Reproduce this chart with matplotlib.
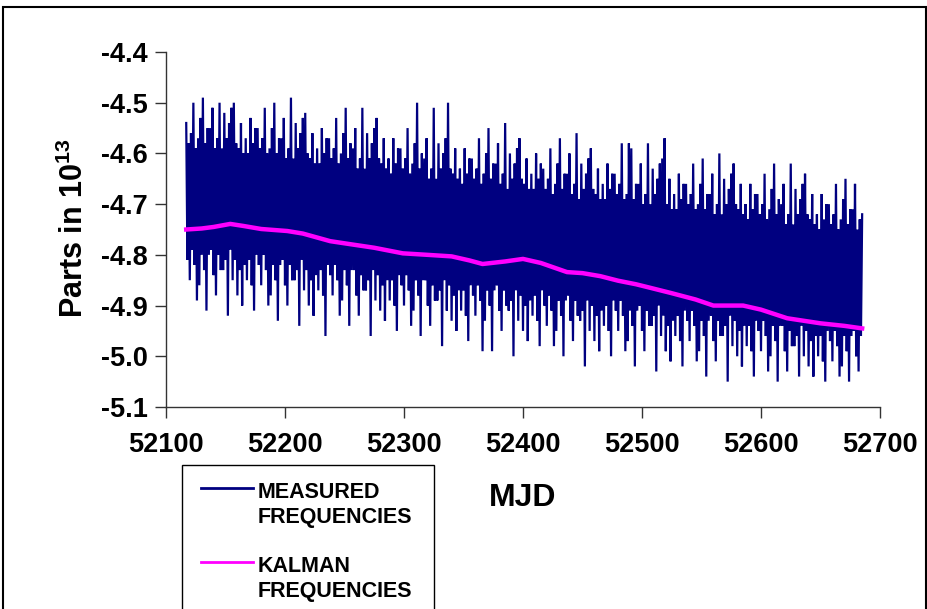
import numpy as np
import matplotlib
matplotlib.use("Agg")
import matplotlib.pyplot as plt
from matplotlib.patches import Rectangle
from matplotlib.lines import Line2D

# ---------------- data ----------------
mjd_start = 52117
mjd_step = 1
measured = [
    -4.54, -4.81, -4.58, -4.85, -4.56, -4.79, -4.50, -4.82, -4.59, -4.89,
    -4.57, -4.86, -4.53, -4.80, -4.49, -4.83, -4.58, -4.91, -4.55, -4.80,
    -4.55, -4.79, -4.51, -4.84, -4.59, -4.88, -4.57, -4.80, -4.50, -4.83,
    -4.59, -4.83, -4.52, -4.81, -4.57, -4.92, -4.54, -4.79, -4.51, -4.85,
    -4.50, -4.81, -4.58, -4.88, -4.59, -4.83, -4.54, -4.90, -4.60, -4.82,
    -4.57, -4.85, -4.60, -4.81, -4.53, -4.86, -4.58, -4.91, -4.55, -4.80,
    -4.55, -4.82, -4.59, -4.86, -4.57, -4.80, -4.51, -4.83, -4.60, -4.90,
    -4.59, -4.88, -4.55, -4.82, -4.50, -4.85, -4.60, -4.93, -4.57, -4.82,
    -4.57, -4.81, -4.53, -4.86, -4.61, -4.90, -4.59, -4.82, -4.49, -4.85,
    -4.61, -4.85, -4.54, -4.83, -4.59, -4.94, -4.56, -4.81, -4.53, -4.87,
    -4.52, -4.83, -4.60, -4.90, -4.61, -4.85, -4.56, -4.92, -4.62, -4.84,
    -4.59, -4.87, -4.62, -4.83, -4.55, -4.88, -4.60, -4.96, -4.57, -4.82,
    -4.57, -4.84, -4.61, -4.88, -4.59, -4.82, -4.53, -4.85, -4.62, -4.92,
    -4.60, -4.89, -4.56, -4.83, -4.51, -4.86, -4.61, -4.94, -4.58, -4.83,
    -4.59, -4.83, -4.55, -4.88, -4.63, -4.92, -4.61, -4.84, -4.51, -4.87,
    -4.63, -4.87, -4.56, -4.85, -4.61, -4.96, -4.58, -4.83, -4.55, -4.89,
    -4.53, -4.84, -4.61, -4.91, -4.62, -4.86, -4.57, -4.93, -4.63, -4.85,
    -4.61, -4.89, -4.64, -4.85, -4.57, -4.90, -4.62, -4.95, -4.59, -4.84,
    -4.59, -4.86, -4.63, -4.90, -4.61, -4.84, -4.55, -4.87, -4.64, -4.94,
    -4.62, -4.91, -4.58, -4.85, -4.50, -4.88, -4.63, -4.96, -4.60, -4.85,
    -4.61, -4.85, -4.57, -4.90, -4.65, -4.94, -4.63, -4.86, -4.51, -4.89,
    -4.65, -4.89, -4.58, -4.87, -4.63, -4.98, -4.60, -4.85, -4.57, -4.91,
    -4.50, -4.86, -4.63, -4.93, -4.64, -4.88, -4.59, -4.95, -4.65, -4.87,
    -4.63, -4.91, -4.66, -4.87, -4.59, -4.92, -4.64, -4.97, -4.61, -4.86,
    -4.61, -4.88, -4.65, -4.92, -4.63, -4.86, -4.57, -4.89, -4.66, -4.99,
    -4.64, -4.93, -4.60, -4.87, -4.55, -4.90, -4.65, -4.99, -4.62, -4.87,
    -4.62, -4.86, -4.58, -4.91, -4.66, -4.95, -4.64, -4.87, -4.54, -4.90,
    -4.67, -4.91, -4.60, -4.89, -4.65, -5.00, -4.62, -4.87, -4.59, -4.93,
    -4.57, -4.88, -4.65, -4.95, -4.66, -4.90, -4.61, -4.97, -4.67, -4.89,
    -4.64, -4.92, -4.67, -4.88, -4.60, -4.93, -4.65, -4.98, -4.62, -4.87,
    -4.63, -4.90, -4.67, -4.94, -4.65, -4.88, -4.59, -4.91, -4.68, -4.98,
    -4.66, -4.95, -4.62, -4.89, -4.57, -4.92, -4.67, -5.00, -4.64, -4.89,
    -4.64, -4.88, -4.60, -4.93, -4.68, -4.97, -4.66, -4.89, -4.56, -4.92,
    -4.69, -4.93, -4.62, -4.91, -4.67, -5.02, -4.64, -4.89, -4.61, -4.95,
    -4.59, -4.90, -4.67, -4.97, -4.68, -4.92, -4.63, -4.99, -4.69, -4.91,
    -4.66, -4.94, -4.69, -4.90, -4.62, -4.95, -4.67, -5.00, -4.64, -4.89,
    -4.64, -4.91, -4.68, -4.95, -4.66, -4.89, -4.58, -4.92, -4.69, -4.99,
    -4.68, -4.97, -4.58, -4.91, -4.59, -4.94, -4.69, -5.02, -4.66, -4.91,
    -4.66, -4.90, -4.62, -4.95, -4.70, -4.99, -4.68, -4.91, -4.58, -4.94,
    -4.70, -4.94, -4.63, -4.92, -4.68, -5.03, -4.65, -4.90, -4.62, -4.96,
    -4.61, -4.92, -4.57, -4.99, -4.70, -4.94, -4.65, -5.01, -4.71, -4.93,
    -4.68, -4.96, -4.71, -4.92, -4.64, -4.97, -4.69, -5.02, -4.66, -4.91,
    -4.66, -4.93, -4.70, -4.97, -4.68, -4.91, -4.62, -4.94, -4.71, -5.01,
    -4.70, -4.99, -4.66, -4.93, -4.61, -4.96, -4.71, -5.04, -4.68, -4.93,
    -4.68, -4.92, -4.64, -4.97, -4.72, -5.01, -4.70, -4.93, -4.60, -4.96,
    -4.72, -4.96, -4.65, -4.94, -4.70, -5.05, -4.67, -4.92, -4.64, -4.98,
    -4.62, -4.93, -4.70, -5.00, -4.71, -4.95, -4.66, -5.02, -4.72, -4.94,
    -4.70, -4.98, -4.73, -4.94, -4.66, -4.99, -4.71, -5.04, -4.68, -4.93,
    -4.68, -4.95, -4.72, -4.99, -4.70, -4.93, -4.64, -4.96, -4.73, -5.03,
    -4.71, -5.00, -4.67, -4.94, -4.62, -4.97, -4.72, -5.05, -4.69, -4.94,
    -4.70, -4.94, -4.66, -4.99, -4.74, -5.03, -4.72, -4.95, -4.62, -4.98,
    -4.74, -4.98, -4.67, -4.96, -4.72, -5.04, -4.69, -4.94, -4.66, -5.00,
    -4.64, -4.95, -4.72, -5.02, -4.73, -4.97, -4.68, -5.04, -4.74, -4.96,
    -4.72, -5.00, -4.75, -4.96, -4.68, -5.01, -4.73, -5.05, -4.70, -4.95,
    -4.70, -4.97, -4.74, -5.01, -4.72, -4.95, -4.66, -4.98, -4.75, -5.04,
    -4.73, -5.02, -4.69, -4.96, -4.65, -4.99, -4.74, -5.05, -4.71, -4.96,
    -4.71, -4.95, -4.66, -5.00, -4.75, -5.03, -4.73, -4.96, -4.72,
]
measured_mjd = mjd_start + mjd_step * np.arange(len(measured))

kalman_mjd = [52117, 52130, 52140, 52154, 52165, 52180, 52202, 52215, 52238,
              52255, 52275, 52299, 52320, 52340, 52355, 52366, 52385, 52400,
              52415, 52437, 52450, 52465, 52480, 52495, 52507, 52524, 52545,
              52560, 52585, 52600, 52622, 52650, 52670, 52685]
kalman = [-4.750, -4.748, -4.745, -4.739, -4.743, -4.749, -4.753, -4.758, -4.773,
          -4.779, -4.786, -4.797, -4.800, -4.803, -4.811, -4.818, -4.813, -4.808,
          -4.816, -4.834, -4.836, -4.842, -4.851, -4.858, -4.865, -4.875, -4.888,
          -4.900, -4.900, -4.908, -4.925, -4.935, -4.940, -4.945]

xticks = [52100, 52200, 52300, 52400, 52500, 52600, 52700]
yticks = [-4.4, -4.5, -4.6, -4.7, -4.8, -4.9, -5.0, -5.1]
ytick_labels = ["-4.4", "-4.5", "-4.6", "-4.7", "-4.8", "-4.9", "-5.0", "-5.1"]
legend_labels = [["MEASURED", "FREQUENCIES"], ["KALMAN", "FREQUENCIES"]]

# ---------------- figure ----------------
plt.rcParams['font.family'] = ['Liberation Sans', 'DejaVu Sans']
plt.rcParams['font.weight'] = 'bold'
plt.rcParams['mathtext.fontset'] = 'custom'
plt.rcParams['mathtext.bf'] = 'Liberation Sans:bold'
plt.rcParams['mathtext.rm'] = 'Liberation Sans:bold'

W, H = 928, 609
fig = plt.figure(figsize=(W / 100, H / 100), dpi=100)
fig.patch.set_facecolor('white')

def fx(px):
    return px / W

def fy(py):
    return 1 - py / H

ax = fig.add_axes([fx(166), fy(407), fx(880) - fx(166), fy(52) - fy(407)])

navy = '#000080'
magenta = '#FF00FF'
ax.plot(measured_mjd, measured, color=navy, lw=1.6, solid_joinstyle='miter')
ax.plot(kalman_mjd, kalman, color=magenta, lw=3.2)

ax.set_xlim(52100, 52700)
ax.set_ylim(-5.1, -4.4)
ax.set_xticks(xticks)
ax.set_xticklabels([str(t) for t in xticks], fontsize=19.5, fontweight='bold')
ax.set_yticks(yticks)
ax.set_yticklabels(ytick_labels, fontsize=19.5, fontweight='bold')
ax.tick_params(axis='both', direction='out', length=8, width=1, color='#333333')
ax.tick_params(axis='x', pad=10)
ax.tick_params(axis='y', pad=5)
for s in ['top', 'right']:
    ax.spines[s].set_visible(False)
for s in ['left', 'bottom']:
    ax.spines[s].set_color('#333333')
    ax.spines[s].set_linewidth(1)

fig.text(fx(523), fy(498), "MJD", fontsize=23, fontweight='bold', ha='center', va='center')
fig.text(fx(74), fy(228), r"Parts in 10$^{\mathrm{13}}$", fontsize=22, fontweight='bold',
         rotation=90, ha='center', va='center')

# outer frame
fig.patches.append(Rectangle((fx(3), fy(640)), fx(926) - fx(3), fy(7) - fy(640),
                             transform=fig.transFigure, fill=False,
                             edgecolor='black', lw=1.5))

# legend box
fig.patches.append(Rectangle((fx(182), fy(640)), fx(434) - fx(182), fy(465) - fy(640),
                             transform=fig.transFigure, fill=False,
                             edgecolor='black', lw=1.0))
for yy, col, lab in [(488, navy, legend_labels[0]), (562, magenta, legend_labels[1])]:
    fig.lines.append(Line2D([fx(201), fx(253)], [fy(yy), fy(yy)],
                            transform=fig.transFigure, color=col, lw=2))
    fig.text(fx(258), fy(yy + 4), lab[0], fontsize=15.5, fontweight='bold',
             ha='left', va='center')
    fig.text(fx(258), fy(yy + 30), lab[1], fontsize=15.5, fontweight='bold',
             ha='left', va='center')

fig.savefig("out.png", dpi=100)
